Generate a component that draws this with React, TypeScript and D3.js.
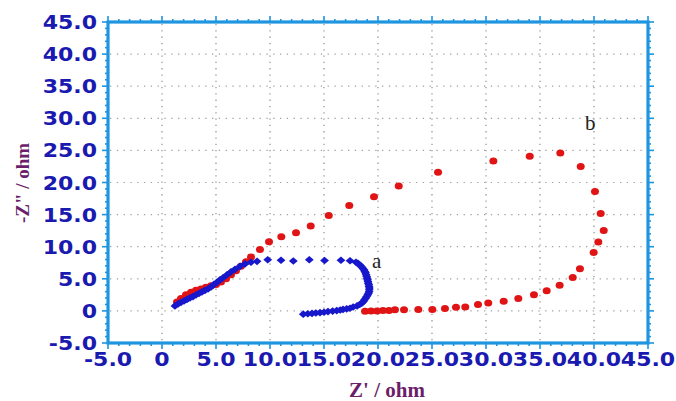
import React from "react";
import * as d3 from "d3";

const xTicks = [-5, 0, 5, 10, 15, 20, 25, 30, 35, 40, 45];
const xTickLabels = ["-5.0", "0", "5.0", "10.0", "15.0", "20.0", "25.0", "30.0", "35.0", "40.0", "45.0"];
const yTicks = [-5, 0, 5, 10, 15, 20, 25, 30, 35, 40, 45];
const yTickLabels = ["-5.0", "0", "5.0", "10.0", "15.0", "20.0", "25.0", "30.0", "35.0", "40.0", "45.0"];

const xTitle = "Z' / ohm";
const yTitle = '-Z" / ohm';

// series a (blue diamonds)
const aRe = [1.2, 1.48, 1.76, 2.04, 2.31, 2.59, 2.87, 3.15, 3.43, 3.7, 3.98, 4.26, 4.54, 4.81, 5.09, 5.37, 5.65, 6.02, 6.39, 6.76, 7.22, 7.69, 8.24, 8.8, 9.79, 11.02, 12.16, 13.64, 15.05, 16.57, 17.41, 17.96, 18.15, 18.29, 18.4, 18.52, 18.6, 18.7, 18.78, 18.84, 18.9, 18.95, 19.0, 19.03, 19.07, 19.1, 19.15, 19.17, 19.2, 19.19, 19.18, 19.12, 19.05, 18.95, 18.85, 18.75, 18.65, 18.49, 18.3, 18.06, 17.7, 17.41, 17.1, 16.76, 16.5, 16.18, 15.8, 15.37, 15.0, 14.63, 14.25, 13.89, 13.5, 13.08];
const aIm = [0.78, 1.09, 1.33, 1.56, 1.79, 2.03, 2.23, 2.5, 2.73, 2.96, 3.2, 3.43, 3.74, 4.13, 4.45, 4.84, 5.15, 5.62, 6.08, 6.47, 6.94, 7.33, 7.57, 7.72, 7.96, 7.88, 7.77, 7.96, 7.85, 7.88, 7.8, 7.57, 7.4, 7.18, 7.0, 6.79, 6.6, 6.4, 6.15, 5.93, 5.65, 5.35, 5.1, 4.84, 4.58, 4.32, 4.07, 3.82, 3.55, 3.28, 3.0, 2.73, 2.5, 2.23, 1.97, 1.72, 1.45, 1.2, 1.0, 0.78, 0.6, 0.42, 0.32, 0.23, 0.15, 0.05, -0.03, -0.11, -0.2, -0.27, -0.33, -0.39, -0.45, -0.51];

// series b (red circles)
const bRe = [18.8, 19.35, 19.91, 20.46, 21.02, 21.57, 22.41, 23.73, 25.03, 26.2, 27.22, 28.08, 29.26, 30.21, 31.64, 32.99, 34.44, 35.62, 36.82, 38.03, 38.7, 39.97, 40.4, 40.9, 40.62, 40.09, 38.77, 36.88, 34.05, 30.68, 25.56, 21.92, 19.63, 17.34, 15.44, 13.77, 12.41, 11.05, 9.91, 9.07, 8.24, 7.78, 7.31, 6.85, 6.39, 5.93, 5.46, 5.0, 4.54, 4.07, 3.61, 3.15, 2.69, 2.22, 1.76, 1.39];
const bIm = [-0.05, 0, 0, 0.05, 0.08, 0.16, 0.16, 0.2, 0.2, 0.36, 0.58, 0.62, 0.98, 1.25, 1.51, 1.92, 2.5, 3.12, 4.01, 5.2, 6.55, 9.1, 10.72, 12.53, 15.18, 18.61, 22.51, 24.6, 24.07, 23.35, 21.58, 19.47, 17.78, 16.43, 14.87, 13.21, 12.17, 11.54, 10.76, 9.56, 8.38, 7.64, 6.94, 6.24, 5.62, 4.99, 4.52, 4.13, 3.9, 3.67, 3.43, 3.2, 2.89, 2.5, 1.95, 1.4];

const labelA = { text: "a", x: 19.44, y: 6.7 };
const labelB = { text: "b", x: 39.17, y: 28.24 };

const W = 676;
const H = 401;
const L = 108, R = 648, T = 22, B = 343;
const AXIS = "#1e95e0";
const TICKTXT = "#1a1ab0";
const TITLE = "#6b1f6b";

export default function App() {
  const x = d3.scaleLinear().domain([-5, 45]).range([L, R]);
  const y = d3.scaleLinear().domain([-5, 45]).range([B, T]);
  const xMinor = d3.range(-5, 45.001, 1);
  const yMinor = d3.range(-5, 45.001, 1);
  const gridX = xTicks.filter((v) => v > -5 && v < 45);
  const gridY = yTicks.filter((v) => v > -5 && v < 45);
  const ptsA = aRe.map((v, i) => [x(v), y(aIm[i])]);
  const ptsB = bRe.map((v, i) => [x(v), y(bIm[i])]);
  const diamond = (cx: number, cy: number) =>
    `M${cx},${cy - 3.8}L${cx + 4.4},${cy}L${cx},${cy + 3.8}L${cx - 4.4},${cy}Z`;

  return (
    <svg width={W} height={H} style={{ position: "absolute", left: 0, top: 0, background: "#fff" }}>
      <rect x={0} y={0} width={W} height={H} fill="#fff" />
      {gridX.map((v) => (
        <line key={"gx" + v} x1={x(v)} x2={x(v)} y1={T + 2} y2={B - 2} stroke="#8f8f8f" strokeWidth={1.2} strokeDasharray="1.3 5" />
      ))}
      {gridY.map((v) => (
        <line key={"gy" + v} x1={L + 2} x2={R - 2} y1={y(v)} y2={y(v)} stroke="#a0a0a0" strokeWidth={1.2} strokeDasharray="1.3 5.5" />
      ))}
      {xMinor.map((v) => {
        const major = xTicks.includes(v);
        const len = major ? 6 : 3;
        return (
          <g key={"xt" + v}>
            <line x1={x(v)} x2={x(v)} y1={B} y2={B + len} stroke={AXIS} strokeWidth={1.6} />
            <line x1={x(v)} x2={x(v)} y1={T} y2={T - len} stroke={AXIS} strokeWidth={1.6} />
          </g>
        );
      })}
      {yMinor.map((v) => {
        const major = yTicks.includes(v);
        const len = major ? 6 : 3;
        return (
          <g key={"yt" + v}>
            <line x1={L} x2={L - len} y1={y(v)} y2={y(v)} stroke={AXIS} strokeWidth={1.6} />
            <line x1={R} x2={R + len} y1={y(v)} y2={y(v)} stroke={AXIS} strokeWidth={1.6} />
          </g>
        );
      })}
      <rect x={L} y={T} width={R - L} height={B - T} fill="none" stroke={AXIS} strokeWidth={3.2} />
      {xTicks.map((v, i) => (
        <text key={"xl" + v} transform={`translate(${x(v)},365.5) scale(1.13,1)`} textAnchor="middle" fontFamily="DejaVu Sans" fontWeight="bold" fontSize={19.5} fill={TICKTXT}>
          {xTickLabels[i]}
        </text>
      ))}
      {yTicks.map((v, i) => (
        <text key={"yl" + v} transform={`translate(97,${y(v) + 7}) scale(1.13,1)`} textAnchor="end" fontFamily="DejaVu Sans" fontWeight="bold" fontSize={19.5} fill={TICKTXT}>
          {yTickLabels[i]}
        </text>
      ))}
      <text x={387} y={396.5} textAnchor="middle" fontFamily="Liberation Serif" fontWeight="bold" fontSize={21} fill={TITLE}>
        {xTitle}
      </text>
      <text transform="translate(29,183) rotate(-90)" textAnchor="middle" fontFamily="Liberation Serif" fontWeight="bold" fontSize={19} fill={TITLE}>
        {yTitle}
      </text>
      {ptsB.map(([cx, cy], i) => (
        <ellipse key={"b" + i} cx={cx} cy={cy} rx={4} ry={3.5} fill="#e01414" />
      ))}
      {ptsA.map(([cx, cy], i) => (
        <path key={"a" + i} d={diamond(cx, cy)} fill="#1717cc" />
      ))}
      <text x={x(labelA.x)} y={y(labelA.y)} fontFamily="Liberation Serif" fontSize={21} fill="#222">{labelA.text}</text>
      <text x={x(labelB.x)} y={y(labelB.y)} fontFamily="Liberation Serif" fontSize={21} fill="#222">{labelB.text}</text>
    </svg>
  );
}
